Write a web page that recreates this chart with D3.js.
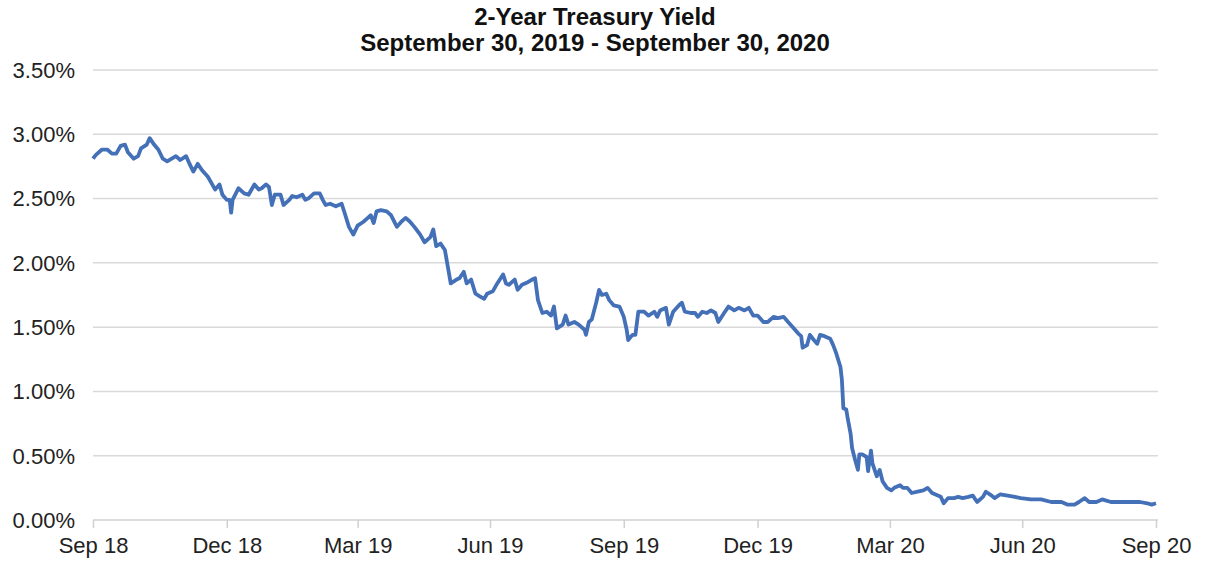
<!DOCTYPE html>
<html>
<head>
<meta charset="utf-8">
<script src="https://cdn.jsdelivr.net/npm/d3@7"></script>
<style>
  body { margin: 0; background: #fff; }
  svg { display: block; font-family: "Liberation Sans", Arial, sans-serif; }
</style>
</head>
<body>
<svg id="chart" width="1208" height="562"></svg>
<script>
// 2-year yield (percent)
var dates = [
  "2018-09-30","2018-10-02","2018-10-06","2018-10-10","2018-10-13","2018-10-16","2018-10-19","2018-10-22",
  "2018-10-24","2018-10-28","2018-10-31","2018-11-02","2018-11-06","2018-11-08","2018-11-11","2018-11-14",
  "2018-11-17","2018-11-20","2018-11-26","2018-11-29","2018-12-03","2018-12-05","2018-12-08","2018-12-11",
  "2018-12-14","2018-12-18","2018-12-20","2018-12-23","2018-12-26","2018-12-28","2018-12-31","2019-01-02",
  "2019-01-03","2019-01-04","2019-01-08","2019-01-12","2019-01-15","2019-01-19","2019-01-22","2019-01-24",
  "2019-01-27","2019-01-29","2019-01-31","2019-02-02","2019-02-06","2019-02-08","2019-02-12","2019-02-14",
  "2019-02-17","2019-02-21","2019-02-23","2019-02-25","2019-03-01","2019-03-05","2019-03-07","2019-03-09",
  "2019-03-12","2019-03-16","2019-03-20","2019-03-22","2019-03-25","2019-03-28","2019-03-31","2019-04-04",
  "2019-04-07","2019-04-09","2019-04-11","2019-04-13","2019-04-16","2019-04-20","2019-04-23","2019-04-27",
  "2019-04-30","2019-05-03","2019-05-06","2019-05-09","2019-05-13","2019-05-16","2019-05-20","2019-05-22",
  "2019-05-24","2019-05-27","2019-05-30","2019-06-01","2019-06-03","2019-06-07","2019-06-09","2019-06-12",
  "2019-06-14","2019-06-17","2019-06-20","2019-06-23","2019-06-26","2019-06-28","2019-07-02","2019-07-05",
  "2019-07-09","2019-07-11","2019-07-13","2019-07-17","2019-07-19","2019-07-22","2019-07-26","2019-07-29",
  "2019-07-31","2019-08-02","2019-08-05","2019-08-08","2019-08-11","2019-08-13","2019-08-15","2019-08-19",
  "2019-08-21","2019-08-23","2019-08-27","2019-08-30","2019-09-03","2019-09-04","2019-09-06","2019-09-08",
  "2019-09-11","2019-09-13","2019-09-15","2019-09-18","2019-09-20","2019-09-23","2019-09-27","2019-09-30",
  "2019-10-02","2019-10-03","2019-10-06","2019-10-08","2019-10-10","2019-10-14","2019-10-17","2019-10-21",
  "2019-10-23","2019-10-25","2019-10-29","2019-10-31","2019-11-03","2019-11-07","2019-11-09","2019-11-11",
  "2019-11-15","2019-11-18","2019-11-20","2019-11-23","2019-11-26","2019-11-29","2019-12-02","2019-12-04",
  "2019-12-08","2019-12-11","2019-12-15","2019-12-18","2019-12-22","2019-12-25","2019-12-28","2019-12-31",
  "2020-01-04","2020-01-07","2020-01-11","2020-01-14","2020-01-18","2020-01-21","2020-01-25","2020-01-28",
  "2020-01-30","2020-01-31","2020-02-03","2020-02-05","2020-02-07","2020-02-10","2020-02-12","2020-02-15",
  "2020-02-19","2020-02-21","2020-02-23","2020-02-26","2020-02-27","2020-02-28","2020-03-01","2020-03-02",
  "2020-03-04","2020-03-05","2020-03-07","2020-03-09","2020-03-10","2020-03-12","2020-03-15","2020-03-16",
  "2020-03-18","2020-03-19","2020-03-22","2020-03-24","2020-03-26","2020-03-29","2020-04-01","2020-04-03",
  "2020-04-07","2020-04-09","2020-04-12","2020-04-15","2020-04-19","2020-04-23","2020-04-26","2020-04-29",
  "2020-05-03","2020-05-05","2020-05-07","2020-05-10","2020-05-14","2020-05-17","2020-05-20","2020-05-24",
  "2020-05-27","2020-05-30","2020-06-03","2020-06-05","2020-06-09","2020-06-11","2020-06-15","2020-06-20",
  "2020-06-25","2020-06-29","2020-07-06","2020-07-13","2020-07-20","2020-07-27","2020-07-31","2020-08-05",
  "2020-08-08","2020-08-12","2020-08-15","2020-08-20","2020-08-24","2020-08-30","2020-09-06","2020-09-13",
  "2020-09-19","2020-09-24","2020-09-27","2020-09-30"
];
var yields = [
  2.81, 2.84, 2.88, 2.88, 2.85, 2.85, 2.91, 2.92,
  2.86, 2.81, 2.83, 2.89, 2.92, 2.97, 2.92, 2.88,
  2.81, 2.79, 2.83, 2.80, 2.83, 2.78, 2.71, 2.77,
  2.72, 2.67, 2.63, 2.57, 2.61, 2.53, 2.49, 2.49,
  2.39, 2.49, 2.58, 2.54, 2.53, 2.61, 2.57, 2.58,
  2.61, 2.59, 2.45, 2.53, 2.53, 2.45, 2.49, 2.52,
  2.51, 2.53, 2.49, 2.50, 2.54, 2.54, 2.49, 2.45,
  2.46, 2.44, 2.46, 2.39, 2.28, 2.22, 2.29, 2.32,
  2.35, 2.37, 2.31, 2.40, 2.41, 2.40, 2.37, 2.28,
  2.32, 2.35, 2.32, 2.28, 2.22, 2.16, 2.20, 2.26,
  2.13, 2.15, 2.10, 1.97, 1.84, 1.87, 1.88, 1.93,
  1.84, 1.87, 1.76, 1.74, 1.72, 1.76, 1.78, 1.84,
  1.91, 1.84, 1.83, 1.87, 1.79, 1.83, 1.85, 1.87,
  1.88, 1.71, 1.61, 1.62, 1.59, 1.66, 1.49, 1.52,
  1.59, 1.52, 1.54, 1.52, 1.48, 1.44, 1.54, 1.56,
  1.69, 1.79, 1.75, 1.76, 1.71, 1.67, 1.66, 1.58,
  1.48, 1.40, 1.44, 1.44, 1.62, 1.62, 1.59, 1.62,
  1.58, 1.63, 1.65, 1.52, 1.62, 1.67, 1.69, 1.62,
  1.61, 1.61, 1.58, 1.62, 1.61, 1.63, 1.61, 1.54,
  1.61, 1.66, 1.63, 1.65, 1.63, 1.65, 1.59, 1.59,
  1.54, 1.54, 1.58, 1.57, 1.58, 1.54, 1.49, 1.45,
  1.43, 1.34, 1.36, 1.44, 1.41, 1.37, 1.44, 1.43,
  1.41, 1.36, 1.30, 1.19, 1.09, 0.87, 0.86, 0.79,
  0.67, 0.56, 0.47, 0.39, 0.51, 0.51, 0.49, 0.38,
  0.54, 0.44, 0.34, 0.39, 0.30, 0.25, 0.23, 0.25,
  0.27, 0.25, 0.25, 0.21, 0.22, 0.23, 0.25, 0.21,
  0.19, 0.18, 0.13, 0.17, 0.17, 0.18, 0.17, 0.18,
  0.19, 0.14, 0.18, 0.22, 0.19, 0.17, 0.20, 0.19,
  0.18, 0.17, 0.16, 0.16, 0.14, 0.14, 0.12, 0.12,
  0.14, 0.17, 0.14, 0.14, 0.16, 0.14, 0.14, 0.14,
  0.14, 0.13, 0.12, 0.13
];
var tickDates = ["2018-09-30","2018-12-31","2019-03-31","2019-06-30","2019-09-30",
  "2019-12-31","2020-03-31","2020-06-30","2020-09-30"];
var tickLabels = ["Sep 18","Dec 18","Mar 19","Jun 19","Sep 19","Dec 19","Mar 20","Jun 20","Sep 20"];
var yTicks = [0, 0.5, 1, 1.5, 2, 2.5, 3, 3.5];
var titleLines = ["2-Year Treasury Yield", "September 30, 2019 - September 30, 2020"];

var parseDate = d3.utcParse("%Y-%m-%d");
var data = dates.map(function (d, i) {
  return { date: parseDate(d), value: yields[i] };
});

var margin = { top: 70, right: 50, bottom: 42, left: 93 },
  width = 1208 - margin.left - margin.right,
  height = 562 - margin.top - margin.bottom;

var svg = d3.select("#chart");
var g = svg.append("g").attr("transform", `translate(${margin.left},${margin.top})`);

var x = d3.scaleUtc()
  .domain([parseDate(tickDates[0]), parseDate(tickDates[tickDates.length - 1])])
  .range([0, width - 2]);
var y = d3.scaleLinear().domain([0, 3.5]).range([height, 0]);

// title
svg.selectAll(".title")
  .data(titleLines)
  .enter()
  .append("text")
  .attr("class", "title")
  .attr("x", 595)
  .attr("y", (d, i) => 25 + i * 26)
  .attr("text-anchor", "middle")
  .style("font-size", "24px")
  .style("font-weight", "bold")
  .style("fill", "#111")
  .text((d) => d);

// horizontal gridlines + y labels
g.selectAll(".grid")
  .data(yTicks.slice(1))
  .enter()
  .append("line")
  .attr("class", "grid")
  .attr("x1", 0)
  .attr("x2", width)
  .attr("y1", (d) => y(d))
  .attr("y2", (d) => y(d))
  .attr("stroke", "#d9d9d9")
  .attr("stroke-width", 1.5);

g.selectAll(".ylab")
  .data(yTicks)
  .enter()
  .append("text")
  .attr("class", "ylab")
  .attr("x", -18)
  .attr("y", (d) => y(d))
  .attr("dy", "0.36em")
  .attr("text-anchor", "end")
  .style("font-size", "22px")
  .style("fill", "#222")
  .text((d) => d3.format(".2f")(d) + "%");

// x axis
var xAxis = g.append("g")
  .attr("transform", "translate(0," + height + ")")
  .call(
    d3.axisBottom(x)
      .tickValues(tickDates.map(parseDate))
      .tickSize(8)
      .tickFormat((d, i) => tickLabels[i])
  );
xAxis.select(".domain").attr("stroke", "#d0d0d0").attr("stroke-width", 1.5).attr("d", `M0,0H${width}`);
xAxis.selectAll(".tick line").attr("stroke", "#d0d0d0").attr("stroke-width", 1.5);
xAxis.selectAll(".tick text")
  .attr("y", 17)
  .style("font-size", "22px")
  .style("font-family", "'Liberation Sans', Arial, sans-serif")
  .style("fill", "#222");

// the yield line
var line = d3.line()
  .x((d) => x(d.date))
  .y((d) => y(d.value));

g.append("path")
  .datum(data)
  .attr("fill", "none")
  .attr("stroke", "#4470b8")
  .attr("stroke-width", 3.8)
  .attr("stroke-linejoin", "round")
  .attr("d", line);
</script>
</body>
</html>
